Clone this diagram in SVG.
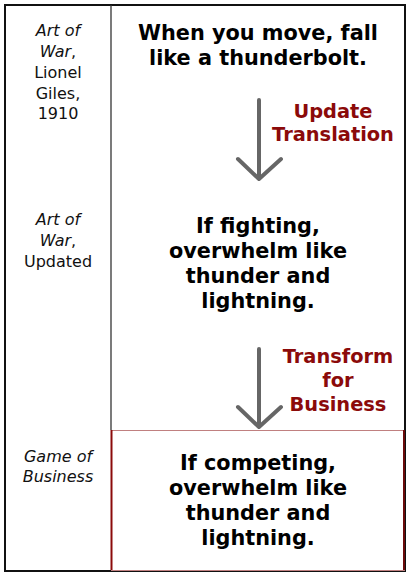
<svg xmlns="http://www.w3.org/2000/svg" width="411" height="576" viewBox="0 0 411 576">
<style>
.lbl{font-family:"DejaVu Sans",Verdana,sans-serif;font-size:16px;fill:#111;text-anchor:middle}
.it{font-style:italic}
.main{font-family:"DejaVu Sans",Verdana,sans-serif;font-size:20.8px;font-weight:bold;fill:#000;text-anchor:middle}
.act{font-family:"DejaVu Sans",Verdana,sans-serif;font-size:19.4px;font-weight:bold;fill:#8b0a0a;text-anchor:middle}
.arr{stroke:#666;stroke-width:4;fill:none;stroke-linecap:round;stroke-linejoin:round}
</style>
<rect x="0" y="0" width="411" height="576" fill="#fff"/>
<g id="frame">
<rect x="5" y="5" width="400" height="566" fill="none" stroke="#111" stroke-width="2"/>
<line x1="111" y1="5" x2="111" y2="430" stroke="#333" stroke-width="1.3"/>
</g>
<g id="row1">
<text class="lbl" x="58"><tspan class="it" x="58" y="36">Art of</tspan><tspan x="58" y="57"><tspan class="it">War</tspan>,</tspan><tspan x="58" y="78">Lionel</tspan><tspan x="58" y="99">Giles,</tspan><tspan x="58" y="119">1910</tspan></text>
<text class="main"><tspan x="258" y="40">When you move, fall</tspan><tspan x="258" y="65">like a thunderbolt.</tspan></text>
</g>
<g id="row2">
<text class="lbl"><tspan class="it" x="58" y="225">Art of</tspan><tspan x="58" y="246"><tspan class="it">War</tspan>,</tspan><tspan x="58" y="267">Updated</tspan></text>
<text class="main"><tspan x="258" y="233">If fighting,</tspan><tspan x="258" y="258">overwhelm like</tspan><tspan x="258" y="283">thunder and</tspan><tspan x="258" y="308">lightning.</tspan></text>
</g>
<g id="row3">
<rect x="111.5" y="430.5" width="293" height="140" fill="none" stroke="#c08080" stroke-width="1"/>
<line x1="111.5" y1="430" x2="111.5" y2="570" stroke="#8b0a0a" stroke-width="2"/>
<line x1="404" y1="430" x2="404" y2="570" stroke="#6b0a0a" stroke-width="2"/>
<text class="lbl it"><tspan x="58" y="462">Game of</tspan><tspan x="58" y="482">Business</tspan></text>
<text class="main"><tspan x="258" y="470">If competing,</tspan><tspan x="258" y="495">overwhelm like</tspan><tspan x="258" y="520">thunder and</tspan><tspan x="258" y="545">lightning.</tspan></text>
</g>
<g id="connectors">
<path class="arr" d="M259,100 V179 M238,159 L259,179 L281,159"/>
<path class="arr" d="M259,349 V427 M238,407 L259,427 L281,407"/>
<text class="act"><tspan x="333" y="118">Update</tspan><tspan x="333" y="141">Translation</tspan></text>
<text class="act"><tspan x="338" y="363">Transform</tspan><tspan x="338" y="387">for</tspan><tspan x="338" y="411">Business</tspan></text>
</g>
</svg>
